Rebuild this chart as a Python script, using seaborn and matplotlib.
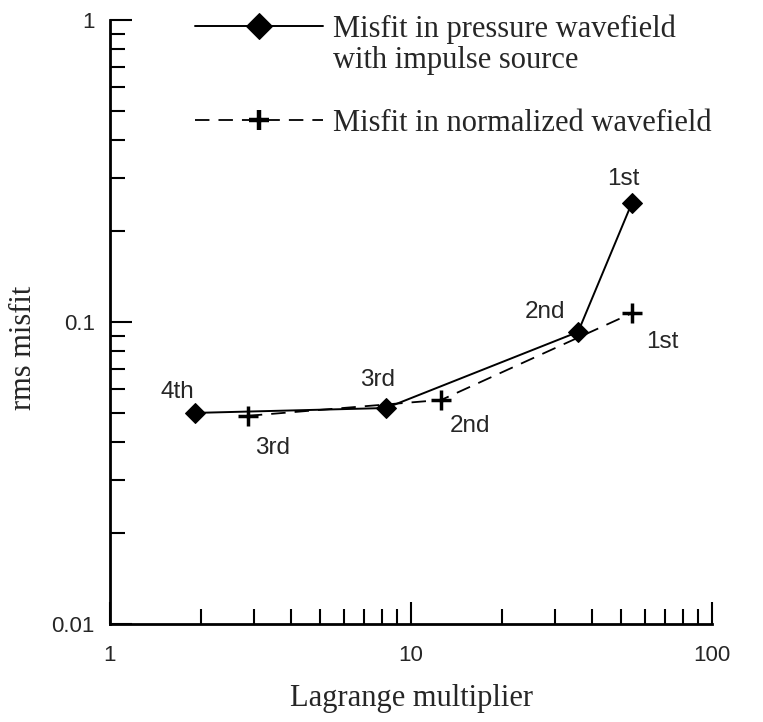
import numpy as np
import matplotlib
matplotlib.use("Agg")
import matplotlib.pyplot as plt
from matplotlib.lines import Line2D
from matplotlib.ticker import FuncFormatter, NullFormatter, LogLocator
import seaborn as sns

# data (log-log axes)
lam_pressure = [54.2, 35.9, 8.26, 1.92]
misfit_pressure = [0.248, 0.0927, 0.0519, 0.0500]
rank_pressure = ['1st', '2nd', '3rd', '4th']

lam_normalized = [54.2, 12.6, 2.87]
misfit_normalized = [0.107, 0.0552, 0.0489]
rank_normalized = ['1st', '2nd', '3rd']

label_pressure = 'Misfit in pressure wavefield'
label_pressure_2 = 'with impulse source'
label_normalized = 'Misfit in normalized wavefield'

sns.set_style("ticks")
plt.rcParams['font.family'] = ['Liberation Sans', 'DejaVu Sans']

fig = plt.figure(figsize=(7.63, 7.22), dpi=100)
ax = fig.add_axes([110 / 763, 1 - 624 / 722, 602 / 763, 604 / 722])
ax.set_xscale('log')
ax.set_yscale('log')

sns.lineplot(x=lam_pressure, y=misfit_pressure, ax=ax, color='black', lw=1.4,
             marker='D', markersize=10, markeredgecolor='black', label=label_pressure)
sns.lineplot(x=lam_normalized, y=misfit_normalized, ax=ax, color='black', lw=1.3,
             linestyle=(0, (8, 5)), marker='+', markersize=14, markeredgewidth=2.5,
             markeredgecolor='black', label=label_normalized)

# rank labels next to each point (offsets in points)
off_pressure = [(-6, 17), (-24, 14), (-6, 20), (-13, 15)]
off_normalized = [(22, -21), (21, -19), (18, -23)]
for xv, yv, txt, off in zip(lam_pressure, misfit_pressure, rank_pressure, off_pressure):
    ax.annotate(txt, (xv, yv), xytext=off, textcoords='offset points',
                ha='center', va='center', fontsize=17.5)
for xv, yv, txt, off in zip(lam_normalized, misfit_normalized, rank_normalized, off_normalized):
    ax.annotate(txt, (xv, yv), xytext=off, textcoords='offset points',
                ha='center', va='center', fontsize=17.5)

ax.set_xlim(1, 100)
ax.set_ylim(0.01, 1)

fmt = FuncFormatter(lambda v, p: f"{v:g}")
for axis in (ax.xaxis, ax.yaxis):
    axis.set_major_locator(LogLocator(base=10))
    axis.set_minor_locator(LogLocator(base=10, subs=np.arange(2, 10)))
    axis.set_major_formatter(fmt)
    axis.set_minor_formatter(NullFormatter())

ax.tick_params(which='major', direction='in', length=16, width=1.5, labelsize=16, color='black')
ax.tick_params(which='minor', direction='in', length=11, width=1.5, color='black')
ax.tick_params(axis='x', which='major', pad=15)
ax.tick_params(axis='y', which='major', pad=11)

sns.despine(ax=ax)
for s in ('left', 'bottom'):
    ax.spines[s].set_linewidth(2)
    ax.spines[s].set_color('black')

ax.set_xlabel('Lagrange multiplier', fontfamily='Liberation Serif', fontsize=22)
ax.set_ylabel('rms misfit', fontfamily='Liberation Serif', fontsize=22)
ax.xaxis.set_label_coords(0.5, -0.1)
ax.yaxis.set_label_coords(-0.12, 0.457)

h, l = ax.get_legend_handles_labels()
blank = Line2D([], [], color='none')
leg = ax.legend([h[0], blank, blank, h[1]],
                [label_pressure, label_pressure_2, '', label_normalized],
                loc='upper left', bbox_to_anchor=(195 / 763, 1 - 14 / 722),
                bbox_transform=fig.transFigure, frameon=False,
                prop={'family': 'Liberation Serif', 'size': 22},
                handlelength=4.2, handletextpad=0.33, labelspacing=0.08,
                borderpad=0, borderaxespad=0)
leg.legend_handles[0].set_markersize(13)
leg.legend_handles[3].set_markeredgewidth(3.2)

fig.savefig('out.png', dpi=100)
